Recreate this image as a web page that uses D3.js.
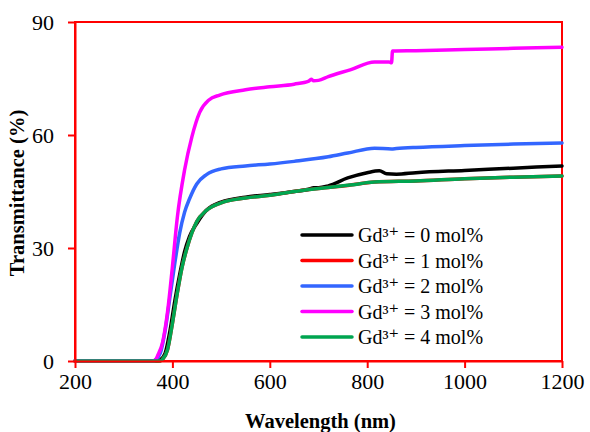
<!DOCTYPE html>
<html>
<head>
<meta charset="utf-8">
<script src="https://cdn.jsdelivr.net/npm/d3@7"></script>
<style>
  body { margin: 0; background: #fff; }
  svg text { font-family: "Liberation Serif", "Times New Roman", Times, "DejaVu Serif", serif; }
</style>
</head>
<body>
<svg id="chart" width="590" height="432"></svg>
<script>
// wavelength (nm) / transmittance (%) pairs
const wl0 = [200, 370, 375, 385, 395, 405, 415, 425, 435, 450, 470, 500, 550, 600, 650, 680, 690, 700, 720, 760, 800, 825, 840, 860, 900, 1000, 1100, 1200];
const t0 = [0, 0, 0.3, 2, 8, 16, 23, 29, 33, 36.5, 40, 42.2, 43.5, 44.2, 45, 45.6, 46, 46, 46.5, 48.6, 50, 50.5, 49.7, 49.6, 50, 50.6, 51.2, 51.8];

const wl1 = [200, 375, 380, 390, 400, 410, 420, 430, 440, 450, 470, 500, 550, 600, 650, 700, 760, 815, 900, 1000, 1100, 1200];
const t1 = [0, 0, 0.5, 3, 10, 18, 25, 30, 34, 37, 40, 42, 43.3, 44, 45, 45.8, 46.6, 47.5, 47.8, 48.4, 48.8, 49.1];

const wl2 = [200, 362, 365, 375, 385, 395, 405, 415, 425, 435, 450, 470, 500, 550, 600, 650, 720, 760, 815, 850, 860, 900, 1000, 1100, 1200];
const t2 = [0, 0, 0.3, 2, 8, 17, 26, 34, 39.5, 43, 47, 49.5, 51, 51.8, 52.3, 53, 54.2, 55.2, 56.5, 56.3, 56.4, 56.7, 57.2, 57.6, 57.9];

const wl3 = [200, 360, 365, 370, 380, 390, 400, 410, 425, 440, 456, 475, 497, 550, 600, 650, 680, 685, 690, 700, 720, 765, 815, 845, 850, 852, 900, 1000, 1100, 1200];
const t3 = [0, 0, 0.3, 1.5, 5, 13, 25, 38, 50.7, 59.5, 66, 69.3, 70.6, 72, 72.8, 73.5, 74.3, 74.8, 74.4, 74.5, 75.5, 77.3, 79.4, 79.4, 79.2, 82.3, 82.4, 82.7, 83, 83.3];

const wl4 = [200, 375, 380, 390, 400, 410, 420, 430, 440, 450, 470, 500, 550, 600, 650, 700, 764, 815, 900, 1000, 1100, 1200];
const t4 = [0, 0, 0.5, 3, 10, 18, 25, 30, 34, 37, 40, 42, 43.3, 44, 45, 45.8, 46.7, 47.5, 47.8, 48.4, 48.8, 49.1];

const seriesNames = ["Gd³⁺ = 0 mol%", "Gd³⁺ = 1 mol%", "Gd³⁺ = 2 mol%", "Gd³⁺ = 3 mol%", "Gd³⁺ = 4 mol%"];
const seriesColors = ["#000000", "#ff0000", "#3366ff", "#ff00ff", "#00a550"];
const xTicks = [200, 400, 600, 800, 1000, 1200];
const yTicks = [0, 30, 60, 90];

const series = [[wl0, t0], [wl1, t1], [wl2, t2], [wl3, t3], [wl4, t4]].map((s, i) => ({
  name: seriesNames[i],
  color: seriesColors[i],
  pts: s[0].map((w, j) => [w, s[1][j]])
}));

const SVG = d3.select("#chart");
const LEFT = 75, RIGHT = 562, TOP = 22, BOTTOM = 361;
const FONT = '"Liberation Serif", "Times New Roman", Times, "DejaVu Serif", serif';

const X_SCALE = d3.scaleLinear().domain([200, 1200]).range([LEFT, RIGHT]);
const Y_SCALE = d3.scaleLinear().domain([0, 90]).range([BOTTOM, TOP]);

// frame
SVG.append("rect")
  .attr("x", LEFT).attr("y", TOP)
  .attr("width", RIGHT - LEFT).attr("height", BOTTOM - TOP)
  .attr("fill", "none").attr("stroke", "#ff0000").attr("stroke-width", 2);

// curves
const line = d3.line()
  .x((d) => X_SCALE(d[0]))
  .y((d) => Y_SCALE(d[1]))
  .curve(d3.curveMonotoneX);

SVG.append("g").selectAll("path")
  .data(series)
  .join("path")
  .attr("d", (d) => line(d.pts))
  .attr("fill", "none")
  .attr("stroke", (d) => d.color)
  .attr("stroke-width", 3.5)
  .attr("stroke-linejoin", "round")
  .attr("stroke-linecap", "round");

// axes
const X_AXIS_G = SVG.append("g").attr("transform", `translate(0,${BOTTOM})`);
X_AXIS_G.call(d3.axisBottom(X_SCALE).tickValues(xTicks).tickFormat(d3.format("d"))
  .tickSizeInner(7).tickSizeOuter(0).tickPadding(5));
const Y_AXIS_G = SVG.append("g").attr("transform", `translate(${LEFT},0)`);
Y_AXIS_G.call(d3.axisLeft(Y_SCALE).tickValues(yTicks).tickFormat(d3.format("d"))
  .tickSizeInner(7).tickSizeOuter(0).tickPadding(14));

[X_AXIS_G, Y_AXIS_G].forEach((g) => {
  g.attr("font-family", FONT).attr("font-size", 22);
  g.select(".domain").attr("stroke", "#ff0000").attr("stroke-width", 2);
  g.selectAll(".tick line").attr("stroke", "#ff0000").attr("stroke-width", 2);
  g.selectAll(".tick text").attr("fill", "#000");
});

// titles
SVG.append("text")
  .attr("x", (LEFT + RIGHT) / 2 + 2).attr("y", 428)
  .attr("text-anchor", "middle")
  .attr("font-family", FONT)
  .style("font-size", "20.5px").style("font-weight", "bold")
  .text("Wavelength (nm)");

SVG.append("text")
  .attr("transform", "translate(24,193) rotate(-90)")
  .attr("text-anchor", "middle")
  .attr("font-family", FONT)
  .style("font-size", "20.5px").style("font-weight", "bold")
  .text("Transmittance (%)");

// legend
const LEG = SVG.append("g").selectAll("g")
  .data(series)
  .join("g")
  .attr("transform", (d, i) => `translate(300,${235 + i * 25.5})`);
LEG.append("line")
  .attr("x1", 2).attr("x2", 52)
  .attr("stroke", (d) => d.color)
  .attr("stroke-width", 3.5)
  .attr("stroke-linecap", "round");
LEG.append("text")
  .attr("x", 58).attr("y", 7)
  .attr("font-family", FONT)
  .style("font-size", "20px")
  .text((d) => d.name);
</script>
</body>
</html>
